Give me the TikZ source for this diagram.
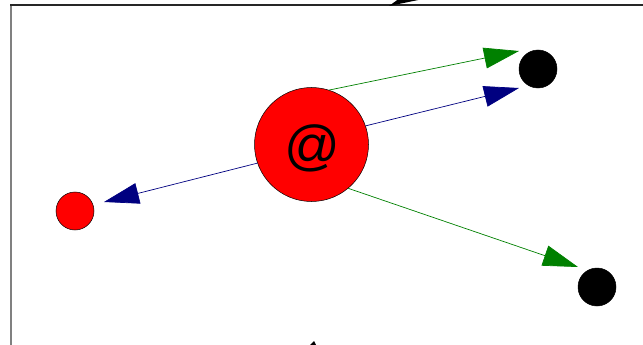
\documentclass[tikz,border=0pt]{standalone}
\usepackage{fontspec}
\setmainfont{Liberation Sans}
\usetikzlibrary{arrows.meta}

\begin{document}
\begin{tikzpicture}[x=1pt,y=-1pt,
  host/.style={circle,draw=black,line width=0.5pt,inner sep=0pt,minimum size=#1},
  msg/.style={-{Triangle[length=35pt,width=21pt]},line width=0.7pt}]
\useasboundingbox (0,0) rectangle (643,345);
% ----- frame and cut-off marks -----
\begin{scope}
\clip (0,0) rectangle (643,345);
\draw[gray,line width=1.6pt] (11,5) -- (11,350);
\draw[black!85,line width=1.5pt] (10.2,5.2) -- (650,5.2);
\fill (389,6) -- (428,-2) -- (400,-2) -- cycle;
\fill (308,347) -- (314,341) -- (317,347) -- cycle;
\end{scope}
% ----- hosts -----
\node[host=114pt,fill=red] (srv) at (311.5,144.5) {};
\node (at) at (312,148) {\fontsize{55}{55}\selectfont @};
\node[host=38pt,fill=red] (cli) at (75,211) {};
\node[host=38pt,fill=black] (rcpA) at (538,69) {};
\node[host=38pt,fill=black] (rcpB) at (597,287) {};
% ----- messages -----
\coordinate (endA) at (519,51);
\coordinate (endB) at (519,88);
\coordinate (endC) at (104,202);
\coordinate (endD) at (578,267);
\draw[msg,green!50!black] (srv.72) -- (endA);
\draw[msg,blue!50!black] (srv.19) -- (endB);
\draw[msg,blue!50!black] (srv.199) -- (endC);
\draw[msg,green!50!black] (srv.310) -- (endD);
\end{tikzpicture}
\end{document}
